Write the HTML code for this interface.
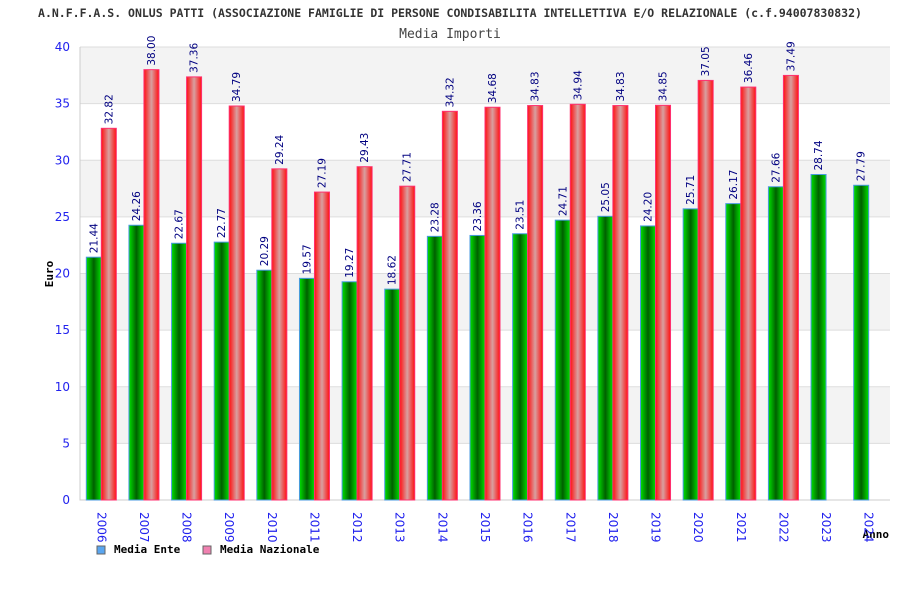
<!DOCTYPE html>
<html><head><meta charset="utf-8"><style>
body{margin:0;background:#fff}
svg text{font-family:"DejaVu Sans Mono","Liberation Mono",monospace}
svg text.s{font-family:"DejaVu Sans","Liberation Sans",sans-serif}
</style></head><body>
<svg id="c" width="900" height="600">
<defs>
<linearGradient id="gg" x1="0" x2="1" y1="0" y2="0"><stop offset="0" stop-color="#00e000"/><stop offset="0.5" stop-color="#006000"/><stop offset="1" stop-color="#00e000"/></linearGradient>
<linearGradient id="rg" x1="0" x2="1" y1="0" y2="0"><stop offset="0" stop-color="#ff1010"/><stop offset="0.5" stop-color="#d8a0a0"/><stop offset="1" stop-color="#ff1010"/></linearGradient>
</defs>
<text x="450" y="17" text-anchor="middle" font-size="11.5" font-weight="bold" fill="#333">A.N.F.F.A.S. ONLUS PATTI (ASSOCIAZIONE FAMIGLIE DI PERSONE CONDISABILITA INTELLETTIVA E/O RELAZIONALE (c.f.94007830832)</text>
<text x="450" y="38" text-anchor="middle" font-size="13" fill="#444">Media Importi</text>
<text transform="translate(53,274) rotate(-90)" text-anchor="middle" font-size="11" font-weight="bold" fill="#000">Euro</text>
<text x="889" y="538" text-anchor="end" font-size="11" font-weight="bold" fill="#000">Anno</text>
<g id="bands"></g><g id="bars"></g>
<g>
<rect x="97" y="546" width="8" height="8" fill="#5aa6f0" stroke="#666"/>
<text x="114" y="553" font-size="11" font-weight="bold">Media Ente</text>
<rect x="203" y="546" width="8" height="8" fill="#f080b0" stroke="#666"/>
<text x="220" y="553" font-size="11" font-weight="bold">Media Nazionale</text>
</g>
</svg>
<script>
const years=["2006","2007","2008","2009","2010","2011","2012","2013","2014","2015","2016","2017","2018","2019","2020","2021","2022","2023","2024"];
const ente=[21.44,24.26,22.67,22.77,20.29,19.57,19.27,18.62,23.28,23.36,23.51,24.71,25.05,24.20,25.71,26.17,27.66,28.74,27.79];
const naz=[32.82,38.00,37.36,34.79,29.24,27.19,29.43,27.71,34.32,34.68,34.83,34.94,34.83,34.85,37.05,36.46,37.49,null,null];
const yTicks=[0,5,10,15,20,25,30,35,40];
const L=80,R=890,T=47,B=500,MAX=40;
const ns="http://www.w3.org/2000/svg";
const y=v=>B-(v/MAX)*(B-T);
const slot=(R-L)/years.length;
const cx=i=>L+slot*(i+0.5);
function mk(t,a,p){const e=document.createElementNS(ns,t);for(const k in a)e.setAttribute(k,a[k]);p.appendChild(e);return e;}
const bands=document.getElementById('bands'),bars=document.getElementById('bars');
for(let k=0;k<yTicks.length-1;k++){
 const a=yTicks[k],b=yTicks[k+1];
 const r=mk('rect',{x:L,y:y(b),width:R-L,height:y(a)-y(b),fill:(yTicks.length-2-k)%2===0?'#f3f3f3':'#fff'},bands);
 
 
}
yTicks.forEach(v=>{
 const l=mk('line',{x1:L,x2:R,y1:y(v),y2:y(v),stroke:'#ddd'},bands);
 
 
 const t=mk('text',{x:70,y:y(v)+4,'text-anchor':'end','font-size':12,fill:'#2222ee',class:'s'},bands);
 t.textContent=v;
 
 
});
const ax=mk('path',{d:`M${L},${T}V${B}H${R}`,fill:'none',stroke:'#ccc'},bands);


function bar(i,v,x,fill,stroke,name){
 const r=mk('rect',{x:x,y:y(v),width:15,height:B-y(v),fill:fill,stroke:stroke,'stroke-width':1},bars);
 
 
 const t=mk('text',{transform:`translate(${x+11},${y(v)-4}) rotate(-90)`,'font-size':10.5,fill:'#000080',class:'s'},bars);
 t.textContent=v.toFixed(2);
 
 
}
years.forEach((yr,i)=>{
 const c=cx(i);
 if(ente[i]!=null)bar(i,ente[i],c-15,'url(#gg)','#4a9ae0','bar-ente-'+yr);
 if(naz[i]!=null)bar(i,naz[i],c,'url(#rg)','#ff3070','bar-nazionale-'+yr);
 const t=mk('text',{transform:`translate(${c-4},${512}) rotate(90)`,'font-size':12,fill:'#2222ee',class:'s'},bars);
 t.textContent=yr;
 
 
});
</script>
</body></html>
